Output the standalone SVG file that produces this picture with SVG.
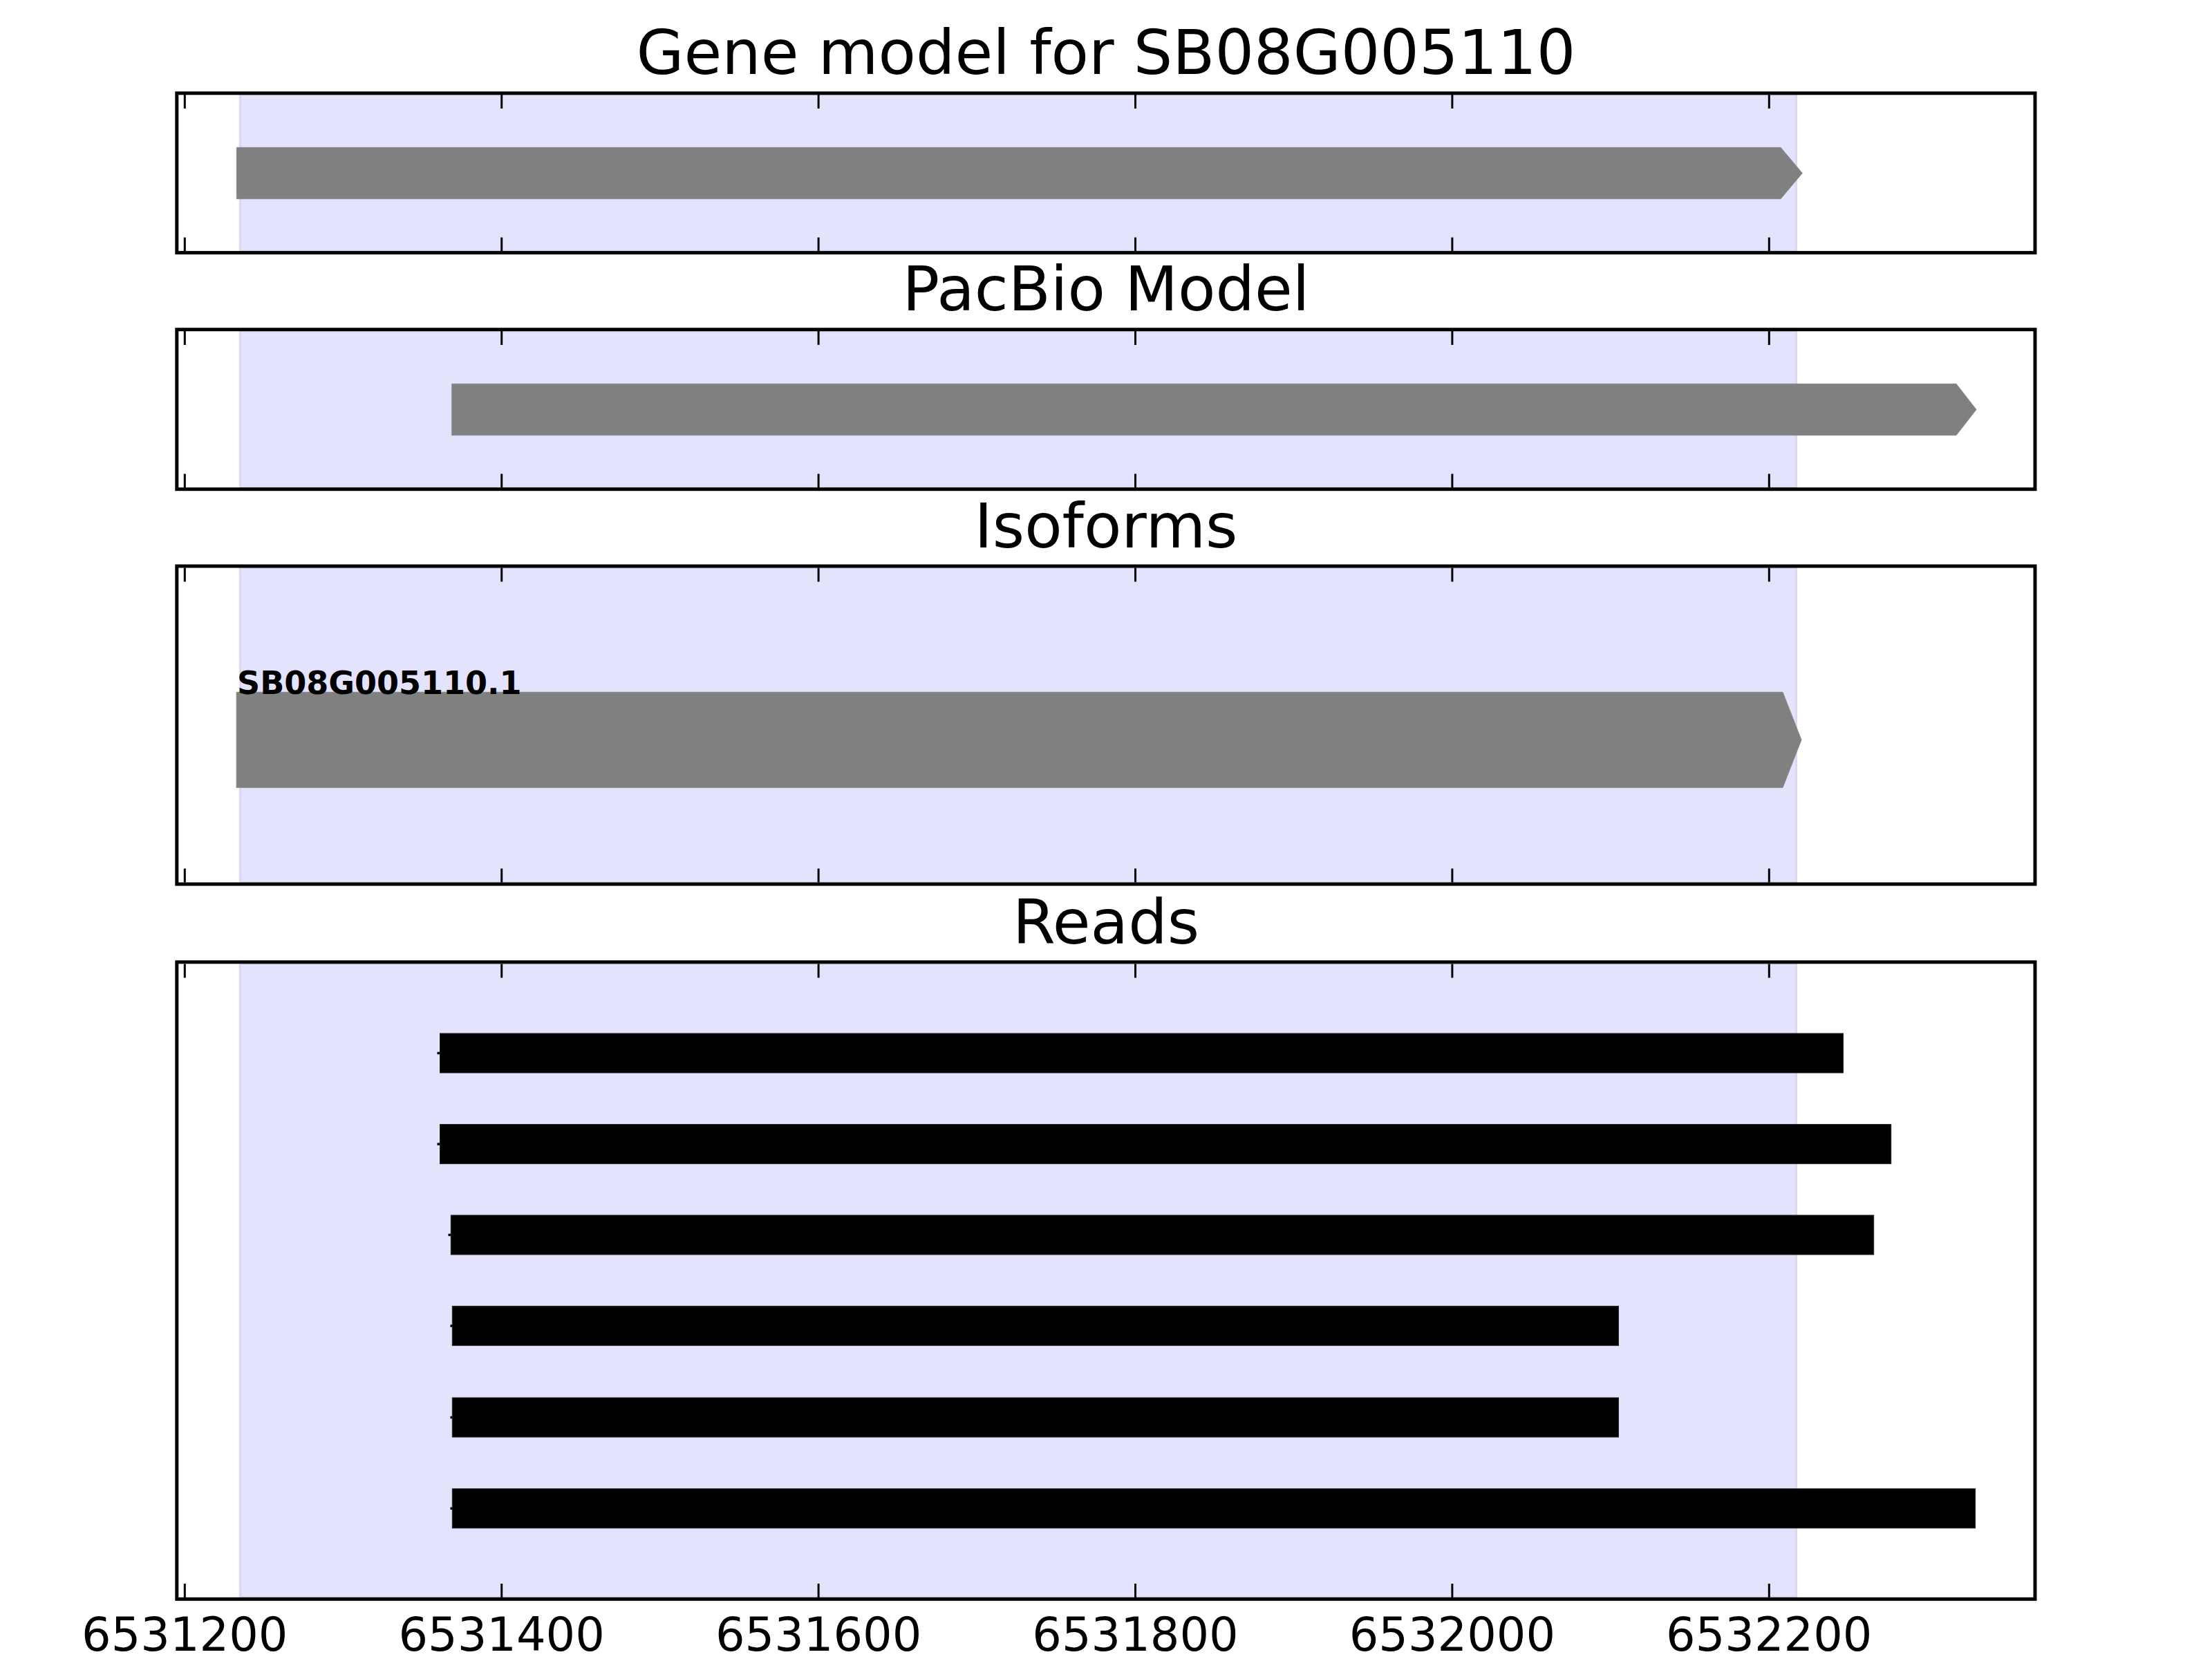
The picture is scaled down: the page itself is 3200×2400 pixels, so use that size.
<svg xmlns="http://www.w3.org/2000/svg" width="3200" height="2400" viewBox="0 0 3200 2400">
<style>
.title{font-family:"DejaVu Sans","Liberation Sans",sans-serif;font-size:89px;fill:#000;text-anchor:middle}
.tick{font-family:"DejaVu Sans","Liberation Sans",sans-serif;font-size:67px;fill:#000;text-anchor:middle}
.lbl{font-family:"DejaVu Sans","Liberation Sans",sans-serif;font-size:46px;font-weight:bold;fill:#000}
.frame{fill:none;stroke:#000;stroke-width:5}
.shade{fill:#e3e3fe;stroke:#d8d8ef;stroke-width:3}
.gene{fill:#808080;stroke:#8a8a8a;stroke-width:1}
.read{fill:#000;stroke:#222;stroke-width:1}
.tk{stroke:#000;stroke-width:3}
.stub{stroke:#000;stroke-width:3.5}
</style>
<defs>
<g id="ticks230">
<line class="tk" x1="267.3" y1="0" x2="267.3" y2="20"/>
<line class="tk" x1="725.7" y1="0" x2="725.7" y2="20"/>
<line class="tk" x1="1184.1" y1="0" x2="1184.1" y2="20"/>
<line class="tk" x1="1642.5" y1="0" x2="1642.5" y2="20"/>
<line class="tk" x1="2100.9" y1="0" x2="2100.9" y2="20"/>
<line class="tk" x1="2559.3" y1="0" x2="2559.3" y2="20"/>
</g>
<g id="ticksBot">
<line class="tk" x1="267.3" y1="0" x2="267.3" y2="-20"/>
<line class="tk" x1="725.7" y1="0" x2="725.7" y2="-20"/>
<line class="tk" x1="1184.1" y1="0" x2="1184.1" y2="-20"/>
<line class="tk" x1="1642.5" y1="0" x2="1642.5" y2="-20"/>
<line class="tk" x1="2100.9" y1="0" x2="2100.9" y2="-20"/>
<line class="tk" x1="2559.3" y1="0" x2="2559.3" y2="-20"/>
</g>
</defs>
<rect width="3200" height="2400" fill="#fff"/>

<g id="panel-gene-model">
<text class="title" x="1600" y="107">Gene model for SB08G005110</text>
<rect class="shade" x="347.5" y="137" width="2251" height="226"/>
<polygon class="gene" points="342.3,213.3 2576,213.3 2607.3,250.5 2576,287.7 342.3,287.7"/>
<use href="#ticks230" y="137"/>
<use href="#ticksBot" y="363.5"/>
<rect class="frame" x="255.8" y="134.8" width="2688.2" height="230.8"/>
</g>

<g id="panel-pacbio">
<text class="title" x="1600" y="449">PacBio Model</text>
<rect class="shade" x="347.5" y="479" width="2251" height="226"/>
<polygon class="gene" points="653.7,555.3 2830,555.3 2859,592.5 2830,629.7 653.7,629.7"/>
<use href="#ticks230" y="479"/>
<use href="#ticksBot" y="705.5"/>
<rect class="frame" x="255.8" y="476.7" width="2688.2" height="231"/>
</g>

<g id="panel-isoforms">
<text class="title" x="1600" y="791.5">Isoforms</text>
<rect class="shade" x="347.5" y="821.5" width="2251" height="455"/>
<polygon class="gene" points="342.1,1001.3 2579,1001.3 2606,1070.3 2579,1139.3 342.1,1139.3"/>
<text class="lbl" x="343" y="1004">SB08G005110.1</text>
<use href="#ticks230" y="821.5"/>
<use href="#ticksBot" y="1276.5"/>
<rect class="frame" x="255.8" y="819" width="2688.2" height="460"/>
</g>

<g id="panel-reads">
<text class="title" x="1600" y="1364.5">Reads</text>
<rect class="shade" x="347.5" y="1394.5" width="2251" height="916"/>
<g id="reads">
<line class="stub" x1="632.5" y1="1523.5" x2="637" y2="1523.5"/>
<rect class="read" x="636.5" y="1495" width="2030" height="57"/>
<line class="stub" x1="632.5" y1="1655.1" x2="637" y2="1655.1"/>
<rect class="read" x="636.5" y="1626.6" width="2099.2" height="57"/>
<line class="stub" x1="648.5" y1="1786.5" x2="653" y2="1786.5"/>
<rect class="read" x="652.3" y="1758" width="2058.4" height="57"/>
<line class="stub" x1="651.5" y1="1918.1" x2="655" y2="1918.1"/>
<rect class="read" x="654.3" y="1889.6" width="1687.2" height="57"/>
<line class="stub" x1="651.5" y1="2050.5" x2="655" y2="2050.5"/>
<rect class="read" x="654.3" y="2022" width="1687.2" height="57"/>
<line class="stub" x1="651.5" y1="2182.2" x2="655" y2="2182.2"/>
<rect class="read" x="654.3" y="2153.7" width="2203.3" height="57"/>
</g>
<use href="#ticks230" y="1394.5"/>
<use href="#ticksBot" y="2311"/>
<rect class="frame" x="255.8" y="1391.8" width="2688.2" height="921.5"/>
</g>

<g id="x-axis-labels">
<text class="tick" x="267.3" y="2387.5">6531200</text>
<text class="tick" x="725.7" y="2387.5">6531400</text>
<text class="tick" x="1184.1" y="2387.5">6531600</text>
<text class="tick" x="1642.5" y="2387.5">6531800</text>
<text class="tick" x="2100.9" y="2387.5">6532000</text>
<text class="tick" x="2559.3" y="2387.5">6532200</text>
</g>
</svg>
